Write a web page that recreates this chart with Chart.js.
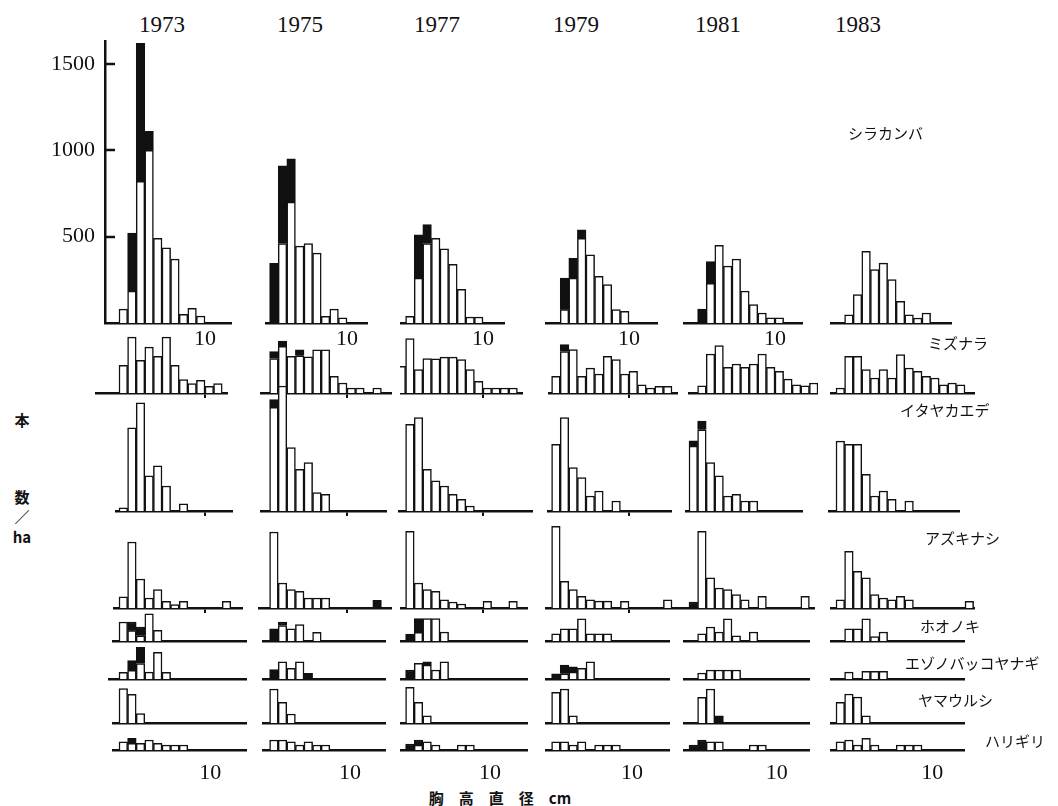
<!DOCTYPE html>
<html><head><meta charset="utf-8">
<script src="https://cdn.jsdelivr.net/npm/chart.js@4.4.1/dist/chart.umd.min.js"></script>
<style>
html,body{margin:0;padding:0;background:#fff;}
#wrap{position:relative;width:1058px;height:806px;overflow:hidden;background:#fff;}
canvas{position:absolute;}
.t{position:absolute;white-space:nowrap;color:#111;}
.yr{font-family:"Liberation Serif",serif;font-size:23px;line-height:26px;transform:translateX(-50%);}
.sp{font-family:"Noto Sans CJK JP",sans-serif;font-size:15px;line-height:16px;}
.ax{font-family:"Noto Sans CJK JP",sans-serif;font-size:15px;font-weight:bold;line-height:16px;transform:translateX(-50%);}
</style></head><body><div id="wrap"></div>
<script>
// ---------- data (trees / ha per 1-cm DBH class, class index from 0) ----------
const years = ['1973','1975','1977','1979','1981','1983'];
const speciesNames = ['シラカンバ','ミズナラ','イタヤカエデ','アズキナシ','ホオノキ','エゾノバッコヤナギ','ヤマウルシ','ハリギリ'];
const yTickValues = [500, 1000, 1500];
const xTickLabel = '10';
const topTickAt = [10, 10, 10, 10, 10, null];
const bottomTickAt = [10.6, 10.35, 10.8, 10.35, 10.2, 11.2];

// live (white) and dead (black) parts, one list per year
const shirakanbaLive = [
  [80,185,820,1000,490,435,370,50,85,40],
  [0,0,460,700,445,460,405,38,80,30],
  [0,38,260,460,490,430,340,195,35,35],
  [0,0,77,260,490,395,270,222,77,67],
  [0,0,230,450,330,370,185,106,58,30,30],
  [0,48,164,415,309,347,251,126,48,29,58]
];
const shirakanbaDead = [[0,335,800,110],[0,345,450,250],[0,0,250,110],[0,0,183,115,50],[0,80,125],[]];

const mizunaraLive = [
  [160,324,189,266,212,324,160,77,54,73,39,54],
  [0,200,270,212,215,210,250,250,96,58,29,29,0,29],
  [154,315,135,199,198,208,208,193,135,67,29,29,29,29],
  [0,96,240,251,96,144,110,212,193,110,125,48,29,38,38],
  [0,42,226,274,149,168,149,168,226,149,125,80,48,42,58],
  [29,212,212,135,87,135,87,222,145,125,97,87,48,58,48]
];
const mizunaraDead = [[],[0,40,30,0,35],[],[0,0,40],[],[]];

const itayaLive = [
  [19,482,627,203,261,145,0,42],
  [0,600,724,367,241,280,106,96],
  [0,502,541,241,174,145,97,68,29],
  [0,386,541,251,193,87,116,0,58],
  [376,470,280,203,87,97,58,58],
  [405,386,386,212,87,116,67,0,58]
];
const itayaDead = [[],[0,45],[],[],[30,50],[]];

const azukiLive = [
  [64,382,168,58,106,38,20,38,0,0,0,0,38],
  [0,440,145,106,96,58,58,58],
  [0,444,145,106,96,48,35,23,0,0,38,0,0,38],
  [0,473,154,106,68,48,40,40,0,38,0,0,0,0,48],
  [0,444,174,116,106,77,48,0,68,0,0,0,0,68],
  [48,328,212,174,77,58,48,68,48,0,0,0,0,0,0,38]
];
const azukiDead = [[],[0,0,0,0,0,0,0,0,0,0,0,0,0,45],[],[],[35],[]];

const hoonokiLive = [
  [110,60,30,158,62],
  [0,0,90,70,95,0,50],
  [0,0,50,130,130,52],
  [0,42,71,71,128,42,42,42],
  [0,42,81,52,128,30,0,52],
  [0,71,71,128,25,52]
];
const hoonokiDead = [[0,50,51],[0,70,20],[0,40,80],[],[],[]];

const ezonoLive = [
  [39,50,90,40,154,39],
  [0,0,100,62,100,0],
  [0,0,91,80,52,100],
  [0,0,30,40,62,100],
  [0,35,52,52,52,52],
  [0,40,0,45,45,45]
];
const ezonoDead = [[0,56,93],[0,55,0,0,0,33],[0,52,0,20],[0,30,50,30],[],[]];

const yamaLive = [
  [199,166,54],
  [0,197,120,52],
  [0,207,120,42],
  [0,178,197,42],
  [0,149,197,0],
  [120,168,150,42]
];
const yamaDead = [[],[],[],[],[0,0,0,42],[]];

const hariLive = [
  [48,38,39,58,39,29,29,29],
  [0,58,58,48,29,48,29,29],
  [0,0,28,48,29,0,0,29,29],
  [0,48,48,29,48,0,29,29,29],
  [0,0,48,48,0,0,0,29,29],
  [48,58,29,68,29,0,0,29,29,29]
];
const hariDead = [[0,30],[],[0,35,30],[],[29,58],[]];

const seriesBySpecies = [
  [shirakanbaLive, shirakanbaDead],[mizunaraLive, mizunaraDead],[itayaLive, itayaDead],[azukiLive, azukiDead],
  [hoonokiLive, hoonokiDead],[ezonoLive, ezonoDead],[yamaLive, yamaDead],[hariLive, hariDead]
];

// ---------- layout ----------
const BIN = 8.6;      // px per DBH class
const K = 0.1727;     // px per tree/ha
const colOrigin = [119, 261, 397, 543, 689, 836];
const lowExt = [[112,247],[262,386],[400,528],[545,670],[683,810],[830,965]];
const layoutRows = [
  {base:323, ymax:1640, ext:[[105,232],[265,368],[400,505],[545,658],[683,803],[830,952]]},
  {base:393, ymax:345,  ext:[[95,228],[260,392],[400,523],[548,678],[688,818],[830,975]]},
  {base:511, ymax:740,  ext:[[115,233],[260,387],[398,533],[547,672],[685,803],[828,960]]},
  {base:608, ymax:500,  ext:[[113,243],[258,392],[400,528],[545,680],[680,815],[830,975]]},
  {base:641, ymax:170,  ext:lowExt},
  {base:679, ymax:190,  ext:[[108,247],[262,386],[400,528],[545,670],[683,810],[830,965]]},
  {base:723, ymax:215,  ext:lowExt},
  {base:750, ymax:90,   ext:lowExt}
];
const speciesLabelPos = [[848,133],[928,343],[900,410],[925,538],[920,626],[905,663],[918,700],[985,741]];
const yearX = [162,300,437,576,718,858];

const wrap = document.getElementById('wrap');
function addText(txt, cls, left, top){
  const d=document.createElement('div'); d.className='t '+cls; d.textContent=txt;
  d.style.left=left+'px'; d.style.top=top+'px'; wrap.appendChild(d); return d;
}

const inwardTicks = {
  id:'inwardTicks',
  afterDraw(chart){
    const s = chart.scales.y, ctx = chart.ctx, left = chart.chartArea.left;
    ctx.save(); ctx.strokeStyle='#111'; ctx.lineWidth=2.5;
    s.ticks.forEach(t=>{ const y=Math.round(s.getPixelForValue(t.value)); ctx.beginPath(); ctx.moveTo(left,y); ctx.lineTo(left+10,y); ctx.stroke(); });
    ctx.restore();
  }
};

function makePanel(r, c){
  const L = layoutRows[r];
  const [live, dead] = [seriesBySpecies[r][0][c], seriesBySpecies[r][1][c]];
  const [px0, px1] = L.ext[c];
  const o = colOrigin[c];
  const showY = (r===0 && c===0);
  const yAxisW = showY ? 62 : 0;
  const plotW = px1 - px0;
  const plotH = Math.round(L.ymax * K);
  const tickVal = r===0 ? topTickAt[c] : (r===7 ? bottomTickAt[c] : null);
  const tickMark = (r>=1 && r<=3 && c<=3);
  const hx = tickVal!=null ? 32 : (tickMark ? 8 : 3);
  const xmin = (px0 - o)/BIN, xmax = xmin + plotW/BIN;
  const cv = document.createElement('canvas');
  cv.width = plotW + yAxisW; cv.height = plotH + hx;
  cv.style.left = (px0 - yAxisW)+'px'; cv.style.top = (L.base - plotH)+'px';
  wrap.appendChild(cv);
  const n = Math.max(live.length, dead.length);
  const liveData=[], deadData=[];
  for(let i=0;i<n;i++){
    liveData.push({x:i+0.5, y: live[i] ? live[i] : null});
    deadData.push({x:i+0.5, y: dead[i] ? dead[i] : null});
  }
  const tickPadding = r===0 ? 3 : 10;
  new Chart(cv, {
    type:'bar',
    data:{datasets:[
      {label:'live', data:liveData, backgroundColor:'#fff', borderColor:'#111', borderWidth:1.5},
      {label:'dead', data:deadData, backgroundColor:'#111', borderColor:'#111', borderWidth:1.5}
    ]},
    options:{
      responsive:false, animation:false, devicePixelRatio:1,
      layout:{padding:0},
      plugins:{legend:{display:false}, tooltip:{enabled:false}},
      datasets:{bar:{barPercentage:1, categoryPercentage:1, borderSkipped:'start'}},
      scales:{
        x:{type:'linear', stacked:true, offset:false, min:xmin, max:xmax,
           grid:{display:tickMark, drawOnChartArea:false, drawTicks:tickMark, tickLength:5, lineWidth:2, color:'#111', offset:false},
           border:{display:true, color:'#111', width:2.5},
           ticks:{display: tickVal!=null, autoSkip:false, maxRotation:0, padding:tickPadding, color:'#111',
                  font:{family:'Liberation Serif', size:22}, callback:()=>xTickLabel},
           afterBuildTicks: ax => { ax.ticks = [{value: tickVal!=null ? tickVal : 10}]; },
           afterFit: ax => { ax.height = hx; ax.paddingLeft = 0; ax.paddingRight = 0; }
        },
        y:{type:'linear', stacked:true, min:0, max:plotH/K, display:showY,
           grid:{display:false, drawTicks:false},
           border:{display:true, color:'#111', width:2.5},
           ticks:{padding:10, color:'#111', font:{family:'Liberation Serif', size:22}, callback:v=>String(v)},
           afterBuildTicks: ax => { ax.ticks = yTickValues.map(v=>({value:v})); },
           afterFit: ax => { ax.width = yAxisW; ax.paddingTop = 0; ax.paddingBottom = 0; }
        }
      }
    },
    plugins: showY ? [inwardTicks] : []
  });
}

for(let r=0;r<layoutRows.length;r++) for(let c=0;c<years.length;c++) makePanel(r,c);

years.forEach((y,i)=> addText(y,'yr',yearX[i],12));
speciesNames.forEach((s,i)=> addText(s,'sp',speciesLabelPos[i][0],speciesLabelPos[i][1]-8));
addText('本','ax',22,412);
addText('数','ax',22,489);
addText('／','ax',22,509);
addText('ha','ax',22,529);
addText('胸　高　直　径　cm','ax',500,790);
</script></body></html>
